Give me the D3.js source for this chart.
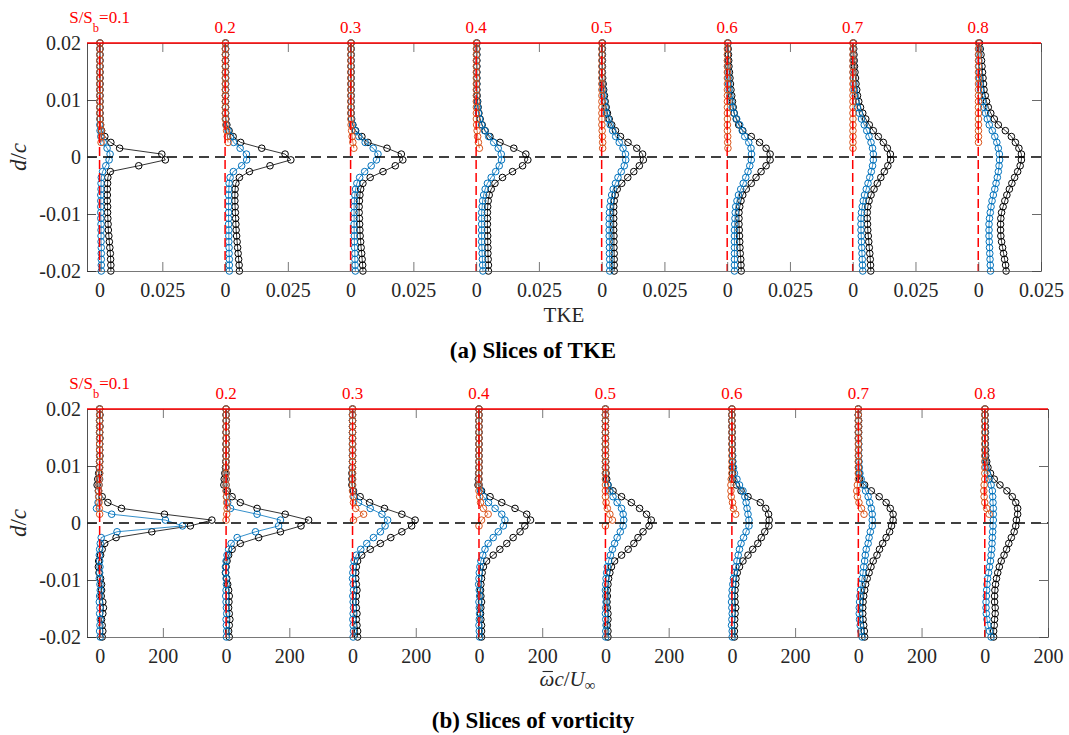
<!DOCTYPE html>
<html>
<head>
<meta charset="utf-8">
<script src="https://cdn.jsdelivr.net/npm/d3@7"></script>
<style>
  html, body { margin: 0; padding: 0; background: #fff; }
  svg text { font-family: "Liberation Serif", "Times New Roman", serif; }
</style>
</head>
<body>
<svg id="fig" width="1069" height="735"></svg>
<script>
// Wall-normal sample positions d/c (shared by every profile, top to bottom)
const yGrid = [0.02, 0.01897, 0.01795, 0.01692, 0.0159, 0.01487, 0.01385, 0.01282, 0.01179, 0.01077,
  0.00974, 0.00872, 0.00769, 0.00667, 0.00564, 0.00462, 0.00359, 0.00256, 0.00154, 0.00051,
  -0.00051, -0.00154, -0.00256, -0.00359, -0.00462, -0.00564, -0.00667, -0.00769, -0.00872, -0.00974,
  -0.01077, -0.01179, -0.01282, -0.01385, -0.01487, -0.0159, -0.01692, -0.01795, -0.01897, -0.02];

const sliceNames = ['0.1', '0.2', '0.3', '0.4', '0.5', '0.6', '0.7', '0.8'];
const yTicks = [-0.02, -0.01, 0, 0.01, 0.02];
const yTickLabels = ['-0.02', '-0.01', '0', '0.01', '0.02'];

// Horizontal origin of each slice (axis units) and the two tick labels repeated per slice
const tkeOffsets = [0, 0.05, 0.1, 0.15, 0.2, 0.25, 0.3, 0.35];
const tkeTickLabels = ['0', '0.025'];
const vortOffsets = [0, 400, 800, 1200, 1600, 2000, 2400, 2800];
const vortTickLabels = ['0', '200'];

// TKE profiles, one array per slice
const tkeBlack = [
  [.0002,.0002,.0002,.0002,.0002,.0002,.0002,.0002,.0002,.0002,.0002,.0002,.0002,.0003,.0004,.0008,.0021,.0045,.0080,.0248,.0262,.0156,.0043,.0033,.0032,.0031,.0031,.0031,.0032,.0032,.0033,.0034,.0035,.0037,.0039,.0041,.0043,.0044,.0045,.0045],
  [.0002,.0002,.0002,.0002,.0002,.0002,.0002,.0002,.0002,.0002,.0002,.0002,.0002,.0003,.0007,.0016,.0032,.0062,.0146,.0239,.0262,.0179,.0097,.0057,.0043,.0040,.0039,.0039,.0040,.0041,.0042,.0043,.0044,.0046,.0048,.0050,.0052,.0054,.0056,.0057],
  [.0002,.0002,.0002,.0002,.0002,.0002,.0002,.0002,.0002,.0002,.0002,.0002,.0002,.0004,.0009,.0020,.0045,.0069,.0145,.0202,.0208,.0178,.0129,.0078,.0049,.0040,.0037,.0035,.0034,.0034,.0035,.0036,.0037,.0038,.0040,.0042,.0044,.0046,.0048,.0049],
  [.0003,.0003,.0003,.0003,.0003,.0003,.0003,.0003,.0003,.0004,.0006,.0008,.0011,.0016,.0024,.0036,.0055,.0095,.0150,.0198,.0206,.0185,.0145,.0105,.0075,.0060,.0052,.0048,.0046,.0045,.0045,.0045,.0045,.0046,.0046,.0047,.0047,.0048,.0049,.0049],
  [.0003,.0003,.0003,.0003,.0003,.0003,.0004,.0006,.0008,.0011,.0014,.0018,.0023,.0030,.0040,.0055,.0075,.0105,.0140,.0163,.0166,.0150,.0128,.0104,.0080,.0062,.0054,.0050,.0048,.0048,.0048,.0048,.0048,.0049,.0049,.0049,.0050,.0050,.0050,.0050],
  [.0003,.0004,.0005,.0006,.0007,.0009,.0011,.0013,.0015,.0018,.0021,.0024,.0028,.0036,.0046,.0062,.0096,.0129,.0155,.0171,.0171,.0155,.0135,.0115,.0096,.0076,.0062,.0055,.0050,.0047,.0047,.0047,.0048,.0049,.0050,.0051,.0052,.0054,.0055,.0056],
  [.0003,.0004,.0005,.0006,.0007,.0009,.0011,.0013,.0016,.0019,.0024,.0031,.0040,.0052,.0066,.0082,.0102,.0122,.0138,.0150,.0151,.0140,.0126,.0112,.0098,.0085,.0073,.0065,.0060,.0058,.0058,.0059,.0060,.0062,.0064,.0066,.0068,.0070,.0071,.0072],
  [.0005,.0008,.0011,.0013,.0015,.0017,.0019,.0021,.0023,.0028,.0033,.0040,.0050,.0064,.0080,.0108,.0132,.0148,.0162,.0172,.0172,.0167,.0157,.0145,.0134,.0124,.0114,.0106,.0099,.0093,.0090,.0089,.0089,.0090,.0093,.0097,.0101,.0105,.0109,.0111]
];
const tkeBlue = [
  [.0001,.0001,.0001,.0001,.0001,.0001,.0001,.0001,.0001,.0001,.0001,.0001,.0001,.0001,.0001,.0002,.0005,.0015,.0030,.0042,.0038,.0025,.0012,.0007,.0006,.0006,.0005,.0005,.0005,.0005,.0005,.0006,.0006,.0006,.0006,.0007,.0007,.0007,.0007,.0007],
  [.0002,.0002,.0002,.0002,.0002,.0002,.0002,.0002,.0002,.0002,.0002,.0002,.0002,.0002,.0005,.0012,.0022,.0034,.0060,.0085,.0086,.0066,.0033,.0020,.0016,.0015,.0014,.0014,.0014,.0014,.0014,.0014,.0015,.0015,.0015,.0016,.0016,.0017,.0017,.0017],
  [.0002,.0002,.0002,.0002,.0002,.0002,.0002,.0002,.0002,.0002,.0002,.0002,.0002,.0003,.0008,.0018,.0033,.0058,.0090,.0109,.0103,.0082,.0056,.0036,.0025,.0020,.0017,.0015,.0014,.0014,.0014,.0014,.0014,.0015,.0015,.0016,.0017,.0017,.0018,.0019],
  [.0002,.0002,.0002,.0002,.0002,.0002,.0002,.0002,.0002,.0002,.0004,.0006,.0009,.0014,.0022,.0034,.0050,.0070,.0088,.0100,.0101,.0092,.0078,.0060,.0045,.0036,.0030,.0026,.0024,.0022,.0022,.0022,.0022,.0022,.0022,.0023,.0024,.0025,.0026,.0027],
  [.0002,.0002,.0002,.0002,.0002,.0002,.0002,.0003,.0005,.0007,.0010,.0014,.0019,.0026,.0034,.0044,.0056,.0070,.0085,.0095,.0096,.0090,.0078,.0065,.0055,.0046,.0040,.0036,.0033,.0031,.0030,.0030,.0030,.0030,.0031,.0031,.0031,.0032,.0032,.0032],
  [.0002,.0002,.0002,.0002,.0002,.0003,.0004,.0006,.0008,.0011,.0015,.0020,.0027,.0038,.0050,.0060,.0070,.0086,.0095,.0097,.0096,.0090,.0083,.0074,.0064,.0054,.0045,.0039,.0034,.0032,.0031,.0030,.0029,.0029,.0029,.0029,.0029,.0029,.0029,.0029],
  [.0002,.0002,.0002,.0002,.0002,.0002,.0003,.0005,.0007,.0010,.0014,.0019,.0026,.0035,.0046,.0056,.0065,.0073,.0079,.0082,.0082,.0079,.0074,.0068,.0061,.0054,.0047,.0042,.0038,.0035,.0033,.0033,.0033,.0034,.0035,.0036,.0037,.0038,.0039,.0040],
  [.0002,.0003,.0003,.0003,.0003,.0004,.0005,.0007,.0009,.0012,.0016,.0022,.0029,.0036,.0044,.0056,.0066,.0074,.0080,.0084,.0085,.0083,.0080,.0076,.0071,.0066,.0060,.0055,.0051,.0048,.0045,.0043,.0043,.0043,.0044,.0045,.0046,.0047,.0048,.0049]
];
const tkeOrange = [
  [.0001,.0001,.0001,.0001,.0001,.0001,.0001,.0001,.0001,.0001,.0001,.0001,.0001,.0002,.0004,.0007,.0008,.0006],
  [.0001,.0001,.0001,.0001,.0001,.0001,.0001,.0001,.0001,.0001,.0001,.0001,.0001,.0001,.0003,.0006,.0009,.0012],
  [.0001,.0001,.0001,.0001,.0001,.0001,.0001,.0001,.0001,.0001,.0001,.0001,.0001,.0001,.0002,.0004,.0006,.0009,.0013],
  [.0001,.0001,.0001,.0001,.0001,.0001,.0001,.0001,.0001,.0001,.0001,.0001,.0001,.0001,.0002,.0004,.0006,.0009,.0013],
  [.0001,.0001,.0001,.0001,.0001,.0001,.0001,.0001,.0001,.0001,.0001,.0001,.0001,.0001,.0001,.0002,.0003,.0004,.0004],
  [.0001,.0001,.0001,.0001,.0001,.0001,.0001,.0001,.0001,.0001,.0001,.0001,.0001,.0001,.0001,.0001,.0002,.0002,.0003],
  [.0001,.0001,.0001,.0001,.0001,.0001,.0001,.0001,.0001,.0001,.0001,.0001,.0001,.0001,.0001,.0001,.0001,.0001,.0001],
  [.0001,.0001,.0001,.0001,.0001,.0001,.0001,.0001,.0001,.0001,.0001,.0001,.0001,.0001,.0001,.0001,.0001,.0001]
];

// Mean vorticity profiles, one array per slice
const vortBlack = [
  [0,1,0,1,0,1,0,0,1,0,-1,-3,-6,-8,-4,8,26,69,205,355,287,165,52,16,8,3,-3,-4,-2,3,6,6,5,10,12,10,6,8,10,8],
  [0,0,1,0,0,1,0,0,0,-1,-2,-4,-6,-7,4,19,45,98,187,261,237,172,103,45,19,8,3,0,-2,2,5,8,10,9,8,10,12,10,8,10],
  [0,0,0,0,0,0,0,0,0,0,-1,-2,-2,-2,3,24,54,101,156,198,187,156,121,88,56,29,16,12,10,10,12,14,12,10,12,14,12,14,16,16],
  [0,0,0,0,0,0,0,0,0,0,0,-1,-2,-3,8,35,72,114,151,163,145,130,108,88,66,45,24,14,10,8,6,5,6,8,6,5,6,8,8,8],
  [0,0,0,0,0,0,0,0,0,1,1,2,4,8,24,51,82,108,130,145,138,119,103,90,72,51,29,19,14,10,8,6,6,5,6,8,8,6,8,8],
  [0,0,0,1,1,1,1,1,2,2,2,2,3,14,29,51,90,107,116,118,117,104,93,82,66,51,35,24,17,13,12,10,9,10,12,10,9,8,8,8],
  [0,0,1,1,1,1,1,1,1,1,1,2,4,20,41,66,88,101,110,110,105,99,88,77,67,59,47,40,34,28,23,20,17,15,14,14,15,17,19,20],
  [1,1,1,2,2,2,2,3,3,6,10,18,30,48,70,87,98,104,104,100,98,93,84,76,69,61,52,46,41,37,34,32,31,31,33,33,31,30,28,28]
];
const vortBlue = [
  [0,0,0,0,0,0,0,0,0,0,0,0,0,-2,-3,-2,-5,-10,38,208,262,55,5,2,0,-1,0,1,0,-1,1,2,0,-1,1,0,2,1,0,2],
  [0,0,0,0,0,0,0,0,0,0,0,0,0,0,1,2,5,14,98,172,166,93,35,16,8,3,0,-2,-1,0,1,0,-1,0,1,2,0,1,2,1],
  [0,0,0,0,0,0,0,0,0,0,0,0,0,0,1,5,19,56,93,111,103,88,66,45,26,12,5,2,1,0,2,3,1,2,3,2,1,2,3,2],
  [0,0,0,0,0,0,0,0,0,0,0,0,0,1,5,14,30,51,72,82,77,61,45,29,19,12,6,3,1,0,-1,1,2,0,1,2,1,0,1,2],
  [0,0,0,0,0,0,0,0,0,0,0,0,1,8,14,24,37,51,56,58,56,47,37,29,22,16,10,6,4,2,1,0,1,2,1,0,1,2,1,1],
  [0,0,0,0,0,0,1,1,2,3,5,8,16,24,35,41,45,48,51,54,54,45,37,29,24,20,16,12,8,5,3,1,0,-1,0,1,0,-1,1,1],
  [0,0,0,0,0,0,1,1,1,2,3,5,9,15,23,31,36,41,44,44,44,38,34,31,25,22,20,17,15,12,9,7,5,4,3,3,4,6,8,12],
  [0,0,1,1,1,1,1,1,1,2,4,8,14,20,24,25,26,27,27,27,26,25,24,23,22,20,18,15,12,9,7,6,5,4,4,5,7,10,15,20]
];
const vortOrange = [
  [0,0,0,0,0,0,0,0,0,0,0,0,-1,-2,-3,-3,-2,-1,0],
  [0,0,0,0,0,0,0,0,0,0,0,0,0,0,0,1,2,3,2,0],
  [0,0,0,0,0,0,0,0,0,0,0,0,0,0,0,2,3,10,35,3],
  [0,0,0,0,0,0,0,0,0,0,0,0,0,0,0,2,5,14,29,8,0],
  [0,0,0,0,0,0,0,0,0,0,0,0,0,0,0,0,2,6,14,22,0],
  [0,0,0,0,0,0,0,0,0,0,0,0,-2,-3,-3,-2,2,5,12],
  [0,0,0,0,0,0,0,0,0,0,0,0,0,-3,-5,-3,2,10,18],
  [0,0,0,0,0,0,0,0,0,0,0,0,0,-2,-3,-2,0,6,14]
];

const COL = { black: '#000000', blue: '#0072BD', orange: '#D95319', red: '#FF0000', axis: '#262626' };
const SERIF = '"Liberation Serif", "Times New Roman", serif';
const SANS = '"Liberation Sans", Arial, Helvetica, sans-serif';

const svg = d3.select('#fig');

const panels = [
  { left: 87, right: 1041, top: 43, bottom: 271, xDomain: [-0.005, 0.375], half: 0.025,
    offsets: tkeOffsets, tickLabels: tkeTickLabels,
    black: tkeBlack, blue: tkeBlue, orange: tkeOrange,
    caption: '(a) Slices of TKE', captionY: 358, xlabel: 'tke', xlabelY: 322 },
  { left: 87, right: 1048, top: 409, bottom: 637, xDomain: [-40, 3000], half: 200,
    offsets: vortOffsets, tickLabels: vortTickLabels,
    black: vortBlack, blue: vortBlue, orange: vortOrange,
    caption: '(b) Slices of vorticity', captionY: 728, xlabel: 'vort', xlabelY: 686 }
];

function drawPanel(p) {
  const x = d3.scaleLinear().domain(p.xDomain).range([p.left, p.right]);
  const y = d3.scaleLinear().domain([-0.02, 0.02]).range([p.bottom, p.top]);
  const g = svg.append('g');
  const line = d3.line().x(d => x(d[0])).y(d => y(d[1]));

  // profiles: black, then blue, then orange on top
  [[p.black, COL.black], [p.blue, COL.blue], [p.orange, COL.orange]].forEach(([set, color]) => {
    set.forEach((vals, k) => {
      const pts = vals.map((v, i) => [p.offsets[k] + v, yGrid[i]]);
      const sg = g.append('g');
      sg.append('path').attr('d', line(pts))
        .attr('fill', 'none').attr('stroke', color).attr('stroke-width', 0.8);
      sg.selectAll('circle').data(pts).enter().append('circle')
        .attr('cx', d => x(d[0])).attr('cy', d => y(d[1])).attr('r', 3.3)
        .attr('fill', 'none').attr('stroke', color).attr('stroke-width', 1);
    });
  });

  // slice origin lines
  p.offsets.forEach(o => {
    g.append('line').attr('x1', x(o)).attr('x2', x(o)).attr('y1', y(0.02)).attr('y2', y(-0.02))
      .attr('stroke', COL.red).attr('stroke-width', 1.5).attr('stroke-dasharray', '9,4');
  });

  // zero line
  g.append('line').attr('x1', x(p.xDomain[0])).attr('x2', x(p.xDomain[1])).attr('y1', y(0)).attr('y2', y(0))
    .attr('stroke', '#000').attr('stroke-width', 1.5).attr('stroke-dasharray', '10,6');

  // axes
  const xTickVals = p.offsets.flatMap(o => [o, o + p.half]);
  const styleAxis = (sel, color) => {
    sel.attr('font-family', SERIF).attr('font-size', 20).attr('color', color);
    sel.selectAll('.tick line').attr('stroke-width', 0.8);
    sel.select('.domain').attr('stroke-width', 0.8);
    sel.selectAll('text').attr('fill', COL.axis);
  };
  const ax = g.append('g').attr('transform', `translate(0,${p.bottom})`)
    .call(d3.axisBottom(x).tickValues(xTickVals).tickFormat((d, i) => p.tickLabels[i % 2])
      .tickSizeInner(-9).tickSizeOuter(0).tickPadding(12));
  styleAxis(ax, '#555');
  const axt = g.append('g').attr('transform', `translate(0,${p.top})`)
    .call(d3.axisTop(x).tickValues(xTickVals).tickFormat('').tickSizeInner(-9).tickSizeOuter(0));
  styleAxis(axt, '#555');
  const ay = g.append('g').attr('transform', `translate(${p.left},0)`)
    .call(d3.axisLeft(y).tickValues(yTicks).tickFormat((d, i) => yTickLabels[i])
      .tickSizeInner(-9).tickSizeOuter(0).tickPadding(6));
  styleAxis(ay, COL.axis);
  const ayr = g.append('g').attr('transform', `translate(${p.right},0)`)
    .call(d3.axisRight(y).tickValues(yTicks).tickFormat('').tickSizeInner(-9).tickSizeOuter(0));
  styleAxis(ayr, '#444');

  // red upper boundary
  g.append('line').attr('x1', p.left).attr('x2', p.right).attr('y1', y(0.02)).attr('y2', y(0.02))
    .attr('stroke', COL.red).attr('stroke-width', 1.3);

  // slice labels
  sliceNames.forEach((name, k) => {
    const t = g.append('text').attr('x', x(p.offsets[k]))
      .attr('y', k === 0 ? p.top - 20 : p.top - 10)
      .attr('text-anchor', 'middle').attr('font-family', SANS).attr('font-size', 17)
      .attr('fill', COL.red);
    if (k === 0) {
      t.append('tspan').text('S/S');
      t.append('tspan').attr('font-size', 12.5).attr('dy', 8.5).text('b');
      t.append('tspan').attr('dy', -8.5).text('=' + name);
    } else {
      t.text(name);
    }
  });

  // y label
  const yl = g.append('text')
    .attr('transform', `translate(26,${y(0)}) rotate(-90)`)
    .attr('text-anchor', 'middle').attr('font-family', SERIF).attr('font-size', 23).attr('fill', COL.axis);
  yl.append('tspan').attr('font-style', 'italic').text('d');
  yl.append('tspan').text('/');
  yl.append('tspan').attr('font-style', 'italic').text('c');

  // x label
  const cx = (p.left + p.right) / 2;
  if (p.xlabel === 'tke') {
    g.append('text').attr('x', cx).attr('y', p.xlabelY).attr('text-anchor', 'middle')
      .attr('font-family', SERIF).attr('font-size', 21).attr('fill', COL.axis).text('TKE');
  } else {
    const xl = g.append('text').attr('x', cx).attr('y', p.xlabelY).attr('text-anchor', 'middle')
      .attr('font-family', SERIF).attr('font-size', 21).attr('fill', COL.axis);
    xl.append('tspan').attr('font-style', 'italic').text('ω');
    xl.append('tspan').attr('font-style', 'italic').text('c');
    xl.append('tspan').text('/');
    xl.append('tspan').attr('font-style', 'italic').text('U');
    xl.append('tspan').attr('font-size', 15).attr('dy', 4).text('∞');
    const ext = xl.node().getExtentOfChar(0);
    g.append('line').attr('x1', ext.x + 3).attr('x2', ext.x + ext.width - 1.5)
      .attr('y1', p.xlabelY - 14.5).attr('y2', p.xlabelY - 14.5)
      .attr('stroke', COL.axis).attr('stroke-width', 1.1);
  }

  // caption
  svg.append('text').attr('x', 533).attr('y', p.captionY).attr('text-anchor', 'middle')
    .attr('font-family', SERIF).attr('font-weight', 'bold').attr('font-size', 23).attr('fill', '#000')
    .text(p.caption);
}

panels.forEach(drawPanel);
</script>
</body>
</html>
